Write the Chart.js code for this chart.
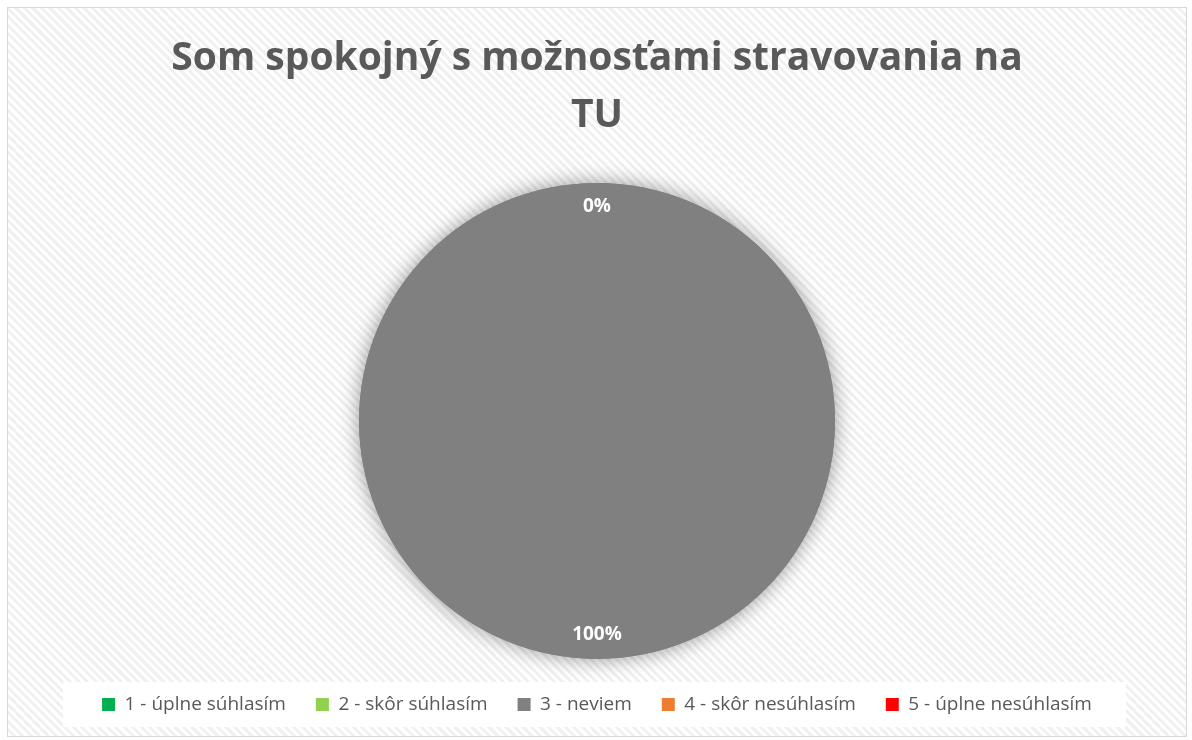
<!DOCTYPE html>
<html>
<head>
<meta charset="utf-8">
<script src="https://cdn.jsdelivr.net/npm/chart.js@4.4.0/dist/chart.umd.min.js"></script>
<style>
  body { margin: 0; background: #fff; }
  #wrap {
    position: absolute; left: 7px; top: 7px; width: 1178px; height: 728px;
    border: 1px solid #d9d9d9;
    background: repeating-linear-gradient(45deg, #ffffff 0px, #ffffff 3px, #f0f0f0 3px, #f0f0f0 6px);
  }
</style>
</head>
<body>
<div id="wrap"><canvas id="pie" width="1178" height="728"></canvas></div>
<script>
var labels = ['1 - úplne súhlasím', '2 - skôr súhlasím', '3 - neviem', '4 - skôr nesúhlasím', '5 - úplne nesúhlasím'];
var values = [0, 0, 100, 0, 0];
var colors = ['#00b050', '#92d050', '#808080', '#ed7d31', '#ff0000'];
var titleLines = ['Som spokojný s možnosťami stravovania na', 'TU'];

// soft shadow under the pie, percent labels and white box behind the legend
var extras = {
    id: 'extras',
    beforeDatasetsDraw: function(chart) {
        var arc = chart.getDatasetMeta(0).data[0];
        var ctx = chart.ctx;
        ctx.save();
        ctx.shadowColor = 'rgba(0,0,0,0.4)';
        ctx.shadowBlur = 20;
        ctx.fillStyle = '#808080';
        ctx.beginPath();
        ctx.arc(arc.x, arc.y, arc.outerRadius, 0, Math.PI * 2);
        ctx.fill();
        ctx.restore();
    },
    afterDatasetsDraw: function(chart) {
        var ctx = chart.ctx;
        var meta = chart.getDatasetMeta(0);
        var total = values.reduce(function(a, b) { return a + b; }, 0);
        var done = {};
        ctx.save();
        ctx.font = 'bold 19px "Open Sans"';
        ctx.fillStyle = '#ffffff';
        ctx.textAlign = 'center';
        ctx.textBaseline = 'middle';
        meta.data.forEach(function(arc, i) {
            var mid = (arc.startAngle + arc.endAngle) / 2;
            var r = arc.outerRadius * 0.9;
            var x = Math.round(arc.x + Math.cos(mid) * r);
            var y = Math.round(arc.y + Math.sin(mid) * r);
            var pct = Math.round(values[i] / total * 100) + '%';
            var key = pct + x + '_' + y;
            if (done[key]) return;
            done[key] = true;
            ctx.fillText(pct, x, y);
        });
        ctx.restore();
    },
    beforeDraw: function(chart) {
        var lg = chart.legend;
        if (!lg || !lg.legendHitBoxes.length) return;
        var hb = lg.legendHitBoxes;
        var left = hb[0].left - 39;
        var right = hb[hb.length - 1].left + hb[hb.length - 1].width + 34;
        var ctx = chart.ctx;
        ctx.save();
        ctx.fillStyle = '#ffffff';
        ctx.fillRect(left, 674, right - left, 45);
        ctx.restore();
    }
};

new Chart(document.getElementById('pie').getContext('2d'), {
    type: 'pie',
    data: {
        labels: labels,
        datasets: [{
            data: values,
            backgroundColor: colors,
            borderWidth: 0,
            radius: 238
        }]
    },
    options: {
        responsive: false,
        animation: false,
        layout: { padding: { top: 0, bottom: 12 } },
        plugins: {
            title: {
                display: true,
                text: titleLines,
                color: '#595959',
                font: { family: '"Open Sans"', size: 39, weight: 'bold', lineHeight: 1.46 },
                padding: { top: 22, bottom: 33 }
            },
            legend: {
                position: 'bottom',
                labels: {
                    color: '#595959',
                    font: { family: '"Open Sans"', size: 19 },
                    boxWidth: 13,
                    boxHeight: 13,
                    padding: 30
                }
            },
            tooltip: { enabled: false }
        }
    },
    plugins: [extras]
});
</script>
</body>
</html>
